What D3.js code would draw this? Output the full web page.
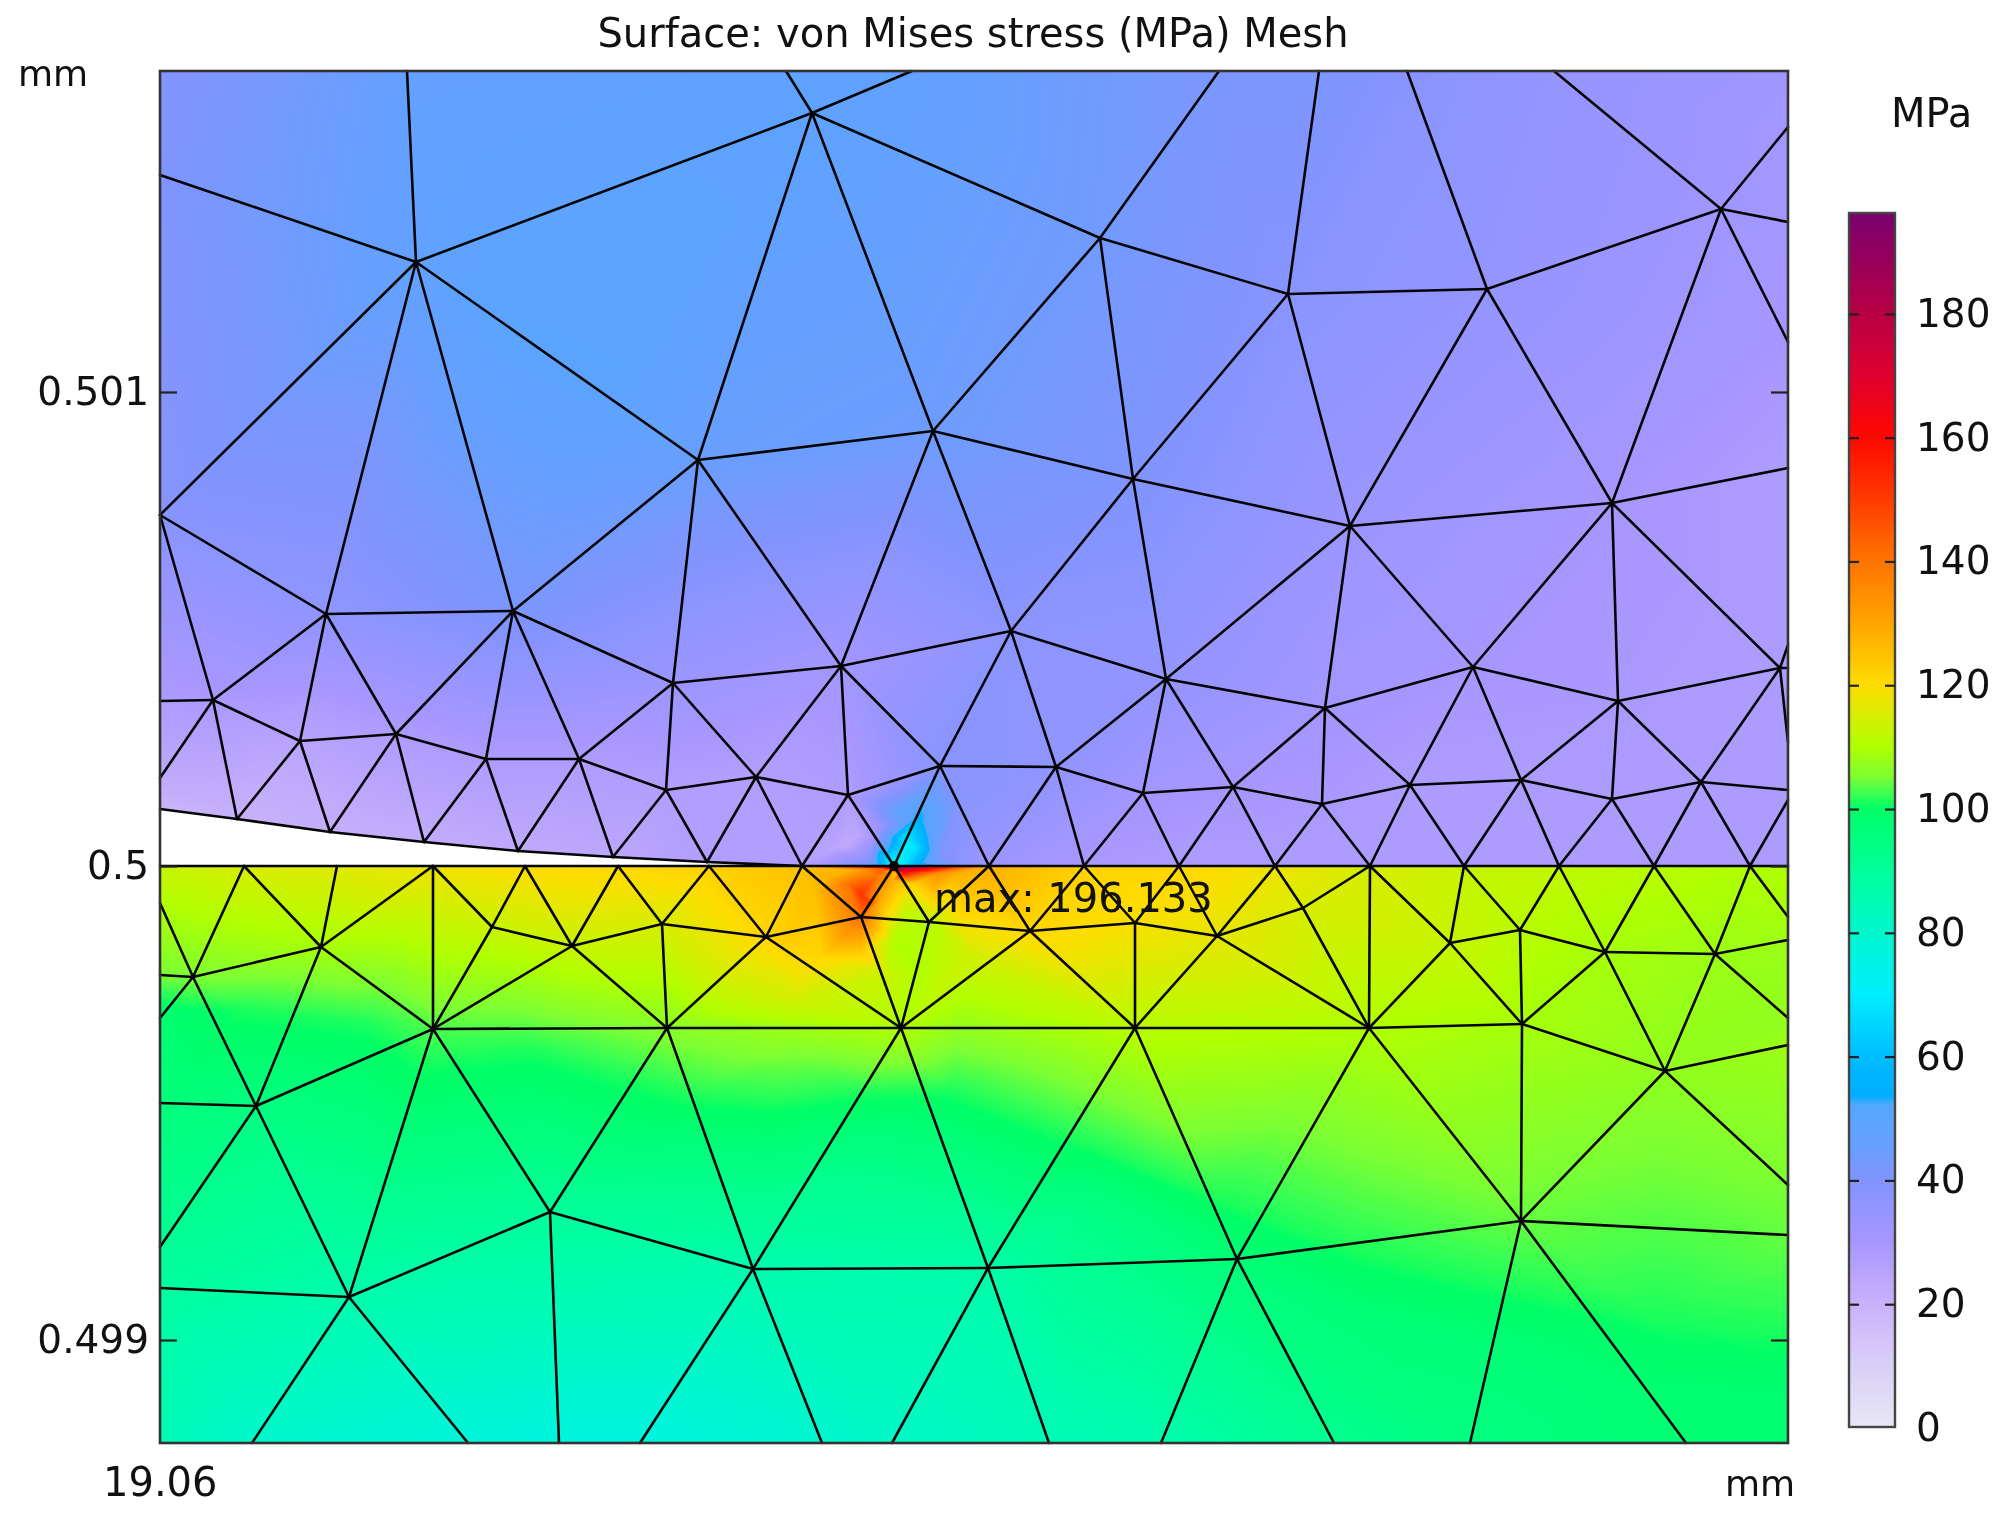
<!DOCTYPE html>
<html><head><meta charset="utf-8">
<script src="https://cdn.jsdelivr.net/npm/d3@7"></script>
<style>
html,body{margin:0;padding:0;background:#fff}
#wrap{position:relative;width:2015px;height:1520px;overflow:hidden;filter:blur(0.55px)}
canvas,svg{position:absolute;left:0;top:0}
svg text{font-family:"DejaVu Sans";fill:#111}
</style></head><body><div id="wrap"><canvas id="field" width="2015" height="1520"></canvas><svg id="chart" width="2015" height="1520"></svg></div>
<script>
// Read-off graph units: 474000 units per mm. u = right of x = 19.06, v = up from y = 0.5
const unitsPerMm = 474000, xOrigin = 19.06, yOrigin = 0.5;
const uSpan = [0, 1628], vSpan = [-577, 795];
const title = "Surface: von Mises stress (MPa) Mesh";
const yTicks = [0.499, 0.5, 0.501];
const yTickLabels = ["0.499", "0.5", "0.501"];
const colorbarTicks = [0,20,40,60,80,100,120,140,160,180];
const stressMin = 0, stressMax = 196.133;
const colorStops = [[0,"#e8e6f6"],[10,"#d9cff6"],[20,"#c8b2fb"],[30,"#a896ff"],[40,"#8094ff"],[46,"#64a0ff"],[52,"#54a6ff"],[53.5,"#00aeff"],[60,"#00bcff"],[70,"#00eeff"],[80,"#00f8cc"],[90,"#00ff9a"],[100,"#00ff66"],[102,"#34ff55"],[105,"#7cff33"],[110,"#b0ff00"],[120,"#ffdc00"],[130,"#ffa400"],[140,"#ff7400"],[150,"#ff3a00"],[160,"#ff0800"],[170,"#de0030"],[180,"#b80044"],[196.133,"#7a0070"]];

const frameNodes = [["tl",0,795],["tr",1628,795],["cl",0,0],["cr",1628,0],["bl",0,-577],["br",1628,-577],
["t1",247,795],["t2",626,795],["t3",752,795],["t4",1059,795],["t5",1159,795],["t6",1247,795],["t7",1394,795],
["l1",0,691],["l2",0,351],["l3",0,165],["l4",0,88],["l5",0,57],["l6",0,-37],["l11",0,-109],["l7",0,-152],["l8",0,-237],["l9",0,-381],["l10",0,-422],
["r1",1628,739],["r2",1628,644],["r3",1628,524],["r4",1628,398],["r5",1628,221],["r0",1628,198],["r6",1628,124],["r7",1628,76],["r8",1628,66],
["r9",1628,-51],["r10",1628,-74],["r11",1628,-152],["r12",1628,-179],["r13",1628,-319],["r14",1628,-369],
["e1",92,-577],["e2",308,-577],["e3",399,-577],["e4",480,-577],["e5",662,-577],["e6",732,-577],["e7",889,-577],["e8",1001,-577],["e9",1174,-577],["e10",1310,-577],["e11",1526,-577]];
const upperNodes = [["A",256,604],["B",652,753],["C",538,406],["D",773,435],["E",940,628],["F",973,387],["G",1128,572],["H",1327,577],["I",1561,657],["J",1190,340],["K",1452,363],
["n1",166,252],["n2",353,255],["n3",53,166],["n4",140,125],["n5",236,132],["n6",326,107],["n7",419,107],
["u1",513,183],["u2",681,200],["u3",851,235],["u4",1006,187],["u5",1165,158],["u6",1313,199],["u7",1458,165],["u8",1620,198],
["v1",506,76],["v2",596,89],["v3",688,71],["v4",780,100],["v5",896,99],["v6",983,73],["v7",1073,79],["v8",1162,62],["v9",1250,81],["v10",1361,86],["v11",1452,67],["v12",1541,84],
["c1",77,47],["c2",170,34],["c3",264,24],["c4",358,15],["c5",453,9],["c6",547,4]];
const interfaceNodes = [["c7",642,0],["s0",734,0],["b1",829,0],["b2",924,0],["b3",1019,0],["b4",1115,0],["b5",1210,0],["b6",1304,0],["b7",1399,0],["b8",1494,0],["b9",1590,0],
["d1",84,0],["d2",177,0],["d3",273,0],["d4",365,0],["d5",458,0],["d6",549,0]];
const lowerNodes = [["w0",33,-111],["w1",161,-81],["w2",332,-61],["w3",412,-80],["w4",502,-58],["w5",606,-71],["w6",701,-51],["w7",769,-56],["w8",870,-65],["w9",975,-57],["w10",1057,-70],["w11",1143,-42],["w12",1290,-77],["w13",1360,-64],["w14",1445,-86],["w15",1555,-88],
["x0",273,-163],["x1",507,-162],["x2",741,-162],["x3",975,-162],["x4",1209,-162],["x5",1362,-158],["x6",1505,-205],
["y1",96,-240],["y2",189,-431],["y3",390,-346],["y4",593,-403],["y5",828,-402],["y6",1077,-393],["y7",1361,-355]];

const meshEdges = ("t1-A t2-B t3-B A-B l1-A A-l2 A-n1 A-n2 A-C B-C B-D B-E C-D C-n2 C-u1 C-u2 D-E D-F D-u2 D-u3 E-t4 E-G E-F F-G F-J F-u3 F-u4 G-t5 G-H G-J H-t6 H-I H-J H-K I-t7 I-r1 I-r2 I-r3 I-K J-K J-u4 J-u5 J-u6 K-r4 K-u6 K-u7 K-u8 "
+"l2-n1 l2-n3 n1-n2 n1-n3 n1-n4 n1-n5 n2-n5 n2-n6 n2-n7 n2-u1 n3-l3 n3-l4 n3-c1 n3-n4 n4-n5 n4-c1 n4-c2 n5-n6 n5-c2 n5-c3 n6-n7 n6-c3 n6-c4 n7-c4 n7-c5 n7-u1 n7-v1 "
+"c5-v1 v1-c6 v1-u1 v1-v2 u1-u2 u1-v2 u2-u3 u2-v2 u2-v3 u2-v4 u3-u4 u3-v4 u3-v5 u4-u5 u4-v5 u4-v6 u4-v7 u5-u6 u5-v7 u5-v8 u5-v9 u6-u7 u6-v9 u6-v10 u7-u8 u7-v10 u7-v11 u7-v12 u8-r0 u8-r5 u8-r6 u8-v12 "
+"v2-c6 v2-c7 v2-v3 v3-c7 v3-s0 v3-v4 v4-s0 v4-b1 v4-v5 v5-b1 v5-b2 v5-v6 v6-b2 v6-b3 v6-v7 v7-b3 v7-b4 v7-v8 v8-b4 v8-b5 v8-v9 v9-b5 v9-b6 v9-v10 v10-b6 v10-b7 v10-v11 v11-b7 v11-b8 v11-v12 v12-b8 v12-b9 v12-r7 b9-r8 "
+"l5-c1 c1-c2 c2-c3 c3-c4 c4-c5 c5-c6 c6-c7 cl-cr "
+"d1-w0 d1-w1 d2-w1 d3-w1 d3-x0 d3-w2 d4-w2 d4-w3 d5-w3 d5-w4 d6-w4 d6-w5 c7-w5 c7-w6 s0-w6 s0-w7 b1-w7 b1-w8 b2-w8 b2-w9 b3-w9 b3-w10 b4-w10 b4-w11 b5-w11 b5-x4 b5-w12 b6-w12 b6-w13 b7-w13 b7-w14 b8-w14 b8-w15 b9-w15 b9-r9 "
+"l6-w0 l11-w0 l7-w0 w0-w1 w0-y1 w1-x0 w1-y1 w2-w3 w2-x0 w3-w4 w3-x0 w3-x1 w4-w5 w4-x1 w5-w6 w5-x1 w5-x2 w6-w7 w6-x2 w7-w8 w7-x2 w8-w9 w8-x2 w8-x3 w9-w10 w9-x3 w10-w11 w10-x3 w10-x4 w11-x4 w12-w13 w12-x4 w12-x5 w13-w14 w13-x5 w14-w15 w14-x5 w14-x6 w15-r10 w15-r11 w15-x6 "
+"x0-x1 x1-x2 x2-x3 x3-x4 x4-x5 x5-x6 x6-r12 x6-r13 x6-y7 x0-y1 x0-y2 x0-y3 x1-y3 x1-y4 x2-y4 x2-y5 x3-y5 x3-y6 x4-y6 x4-y7 x5-y7 "
+"y1-l8 y1-l9 y1-y2 y2-l10 y2-y3 y2-e1 y2-e2 y3-y4 y3-e3 y4-y5 y4-e4 y4-e5 y5-y6 y5-e6 y5-e7 y6-y7 y6-e8 y6-e9 y7-r14 y7-e10 y7-e11").split(" ");

const upperStress = {tl:39,t1:46,t2:48,t3:47,t4:41,t5:41,t6:38,t7:35,tr:32,l1:40,l2:38,l3:28,l4:23,l5:19,r1:31,r2:31,r3:30,r4:28,r5:28,r0:28,r6:28,r7:28,r8:28,
A:47,B:48,C:45,D:44,E:43,F:40,G:38,H:35,I:32,J:33,K:30,n1:36,n2:41,n3:29,n4:25,n5:28,n6:28,n7:28,
u1:33,u2:31,u3:37,u4:35,u5:31,u6:30,u7:29,u8:28,v1:27,v2:27,v3:28,v4:38,v5:36,v6:31,v7:30,v8:29,v9:28,v10:28,v11:28,v12:28,
c1:20,c2:21,c3:22,c4:23,c5:24,c6:27,c7:27,s0:75,b1:33,b2:29,b3:28,b4:28,b5:28,b6:28,b7:28,b8:28,b9:28,cr:28};
const lowerStress = {cl:113,d1:115,d2:116,d3:118,d4:120,d5:121,d6:122,c7:125,s0:196,b1:128,b2:122,b3:121,b4:118,b5:115,b6:113,b7:112,b8:111,b9:110,cr:110,
l6:110,l11:105,l7:98,l8:96,l9:91,l10:89,bl:84,r9:109,r10:108,r11:107,r12:108,r13:105,r14:104,br:98,
w0:105,w1:109,w2:113,w3:113,w4:115,w5:121,w6:140,w7:111,w8:121,w9:119,w10:117,w11:115,w12:113,w13:111,w14:109,w15:108,
x0:103,x1:106,x2:110,x3:111,x4:110,x5:109,x6:107,y1:95,y2:86,y3:90,y4:86,y5:87,y6:97,y7:104,
e1:80,e2:77,e3:76,e4:76,e5:79,e6:81,e7:84,e8:86,e9:92,e10:95,e11:98};
// Extra readings of the colour field between the nodes: [u, v, MPa]
const upperReadings = [[352,540,50],[450,500,50],[728,8,66],[740,8,72],[720,4,58],[750,4,64],[710,4,40],[765,4,50],[780,6,40],[745,21,70],[755,18,68],[735,21,58],[725,16,50],[746,31,68],[753,41,62],[763,24,58],[770,16,52],[759,51,54],[720,13,58],[727,29,47],[717,39,32],[770,31,50],[740,41,46],[712,28,30],[698,31,24],[687,21,23],[670,16,25],[640,16,27],[800,66,38]];
const lowerReadings = [[700,-27,152],[687,-17,140],[670,-11,128],[717,-9,140],[710,-37,148],[720,-34,128],[733,-14,128],[735,-7,122],[747,-37,114],[753,-47,112],[743,-6,160],[735,-2,190],[760,-6,148],[777,-7,134],[797,-9,127],[820,-7,127],[753,-17,122],[720,-2,145],[703,-4,133],[687,-4,127],[653,-27,125],[701,-84,124],[727,-107,113],[660,-91,121],[627,-74,123],[733,-74,110],[760,-107,110],[810,-91,114],[630,-134,114],[630,-163,108],[630,-199,104],
[0,-130,101],[84,-143,101],[207,-157,101],[369,-184,101],[532,-231,101],[613,-237,101],[695,-227,101],[790,-224,101],[925,-277,101],[1061,-334,101],[1196,-384,101],[1332,-417,101],[1494,-451,101],[1627,-467,101],
[532,-290,95],[695,-290,94],[925,-340,94],[1061,-400,96],[1196,-450,97],[1332,-480,97],[1494,-520,98],[1628,-530,98]];

const toX = u => xOrigin + u/unitsPerMm, toY = v => yOrigin + v/unitsPerMm;
const x = d3.scaleLinear().domain(uSpan.map(toX)).range([160,1788]);
const y = d3.scaleLinear().domain(vSpan.map(toY)).range([1443,71]);
const cbar = d3.scaleLinear().domain([stressMin,stressMax]).range([1427,213]);
const color = d3.scaleLinear().domain(colorStops.map(d=>d[0])).range(colorStops.map(d=>d[1])).interpolate(d3.interpolateRgb).clamp(true);

const nodes = new Map([...frameNodes,...upperNodes,...interfaceNodes,...lowerNodes].map(d=>[d[0],{u:d[1],v:d[2]}]));
const px = n => [x(toX(n.u)), y(toY(n.v))];

// colour lookup
const lutN = 2000, lut = new Uint8Array(3*(lutN+1));
for(let i=0;i<=lutN;i++){const c=d3.rgb(color(stressMax*i/lutN));lut[3*i]=c.r;lut[3*i+1]=c.g;lut[3*i+2]=c.b;}

const cv = document.getElementById("field"), ctx = cv.getContext("2d");
const img = ctx.createImageData(cv.width,cv.height);
for(let i=3;i<img.data.length;i+=4) img.data[i]=0;
function paint(stress, readings){
  const pts=[], vals=[];
  for(const k of Object.keys(stress)){pts.push(px(nodes.get(k)));vals.push(stress[k]);}
  for(const r of readings){pts.push(px({u:r[0],v:r[1]}));vals.push(r[2]);}
  const tri = d3.Delaunay.from(pts).triangles;
  for(let t=0;t<tri.length;t+=3){
    const a=tri[t],b=tri[t+1],c=tri[t+2];
    const [ax,ay]=pts[a],[bx,by]=pts[b],[cx,cy]=pts[c];
    const den=(by-cy)*(ax-cx)+(cx-bx)*(ay-cy); if(Math.abs(den)<1e-6) continue;
    const x0=Math.floor(Math.min(ax,bx,cx)),x1=Math.ceil(Math.max(ax,bx,cx));
    const y0=Math.floor(Math.min(ay,by,cy)),y1=Math.ceil(Math.max(ay,by,cy));
    for(let py=y0;py<=y1;py++)for(let pxx=x0;pxx<=x1;pxx++){
      const w1=((by-cy)*(pxx-cx)+(cx-bx)*(py-cy))/den;
      const w2=((cy-ay)*(pxx-cx)+(ax-cx)*(py-cy))/den;
      const w3=1-w1-w2;
      if(w1<-0.004||w2<-0.004||w3<-0.004) continue;
      const val=w1*vals[a]+w2*vals[b]+w3*vals[c];
      const li=Math.max(0,Math.min(lutN,Math.round(val/stressMax*lutN)));
      const o=4*(py*cv.width+pxx);
      img.data[o]=lut[3*li];img.data[o+1]=lut[3*li+1];img.data[o+2]=lut[3*li+2];img.data[o+3]=255;
    }
  }
}
paint(upperStress,upperReadings);
paint(lowerStress,lowerReadings);
ctx.putImageData(img,0,0);

const svg = d3.select("#chart");
const edges = Array.from(new Set(meshEdges)).map(e=>e.split("-").map(k=>px(nodes.get(k))));
svg.append("g").attr("stroke","#050505").attr("stroke-width",2.6).attr("stroke-linecap","round")
  .selectAll("line").data(edges).join("line")
  .attr("x1",d=>d[0][0]).attr("y1",d=>d[0][1]).attr("x2",d=>d[1][0]).attr("y2",d=>d[1][1]);
const maxP = px(nodes.get("s0"));
svg.append("circle").attr("cx",maxP[0]).attr("cy",maxP[1]).attr("r",5).attr("fill","#000");
svg.append("rect").attr("x",160).attr("y",71).attr("width",1628).attr("height",1372).attr("fill","none").attr("stroke","#333").attr("stroke-width",2.6);

// axes
const yAxisL = d3.axisLeft(y).tickValues(yTicks).tickFormat((d,i)=>yTickLabels[i]).tickSizeInner(-17).tickSizeOuter(0).tickPadding(11);
const yAxisR = d3.axisRight(y).tickValues(yTicks).tickFormat("").tickSizeInner(-17).tickSizeOuter(0);
const styleAxis = g => {g.select(".domain").remove();g.selectAll("line").attr("stroke","#222").attr("stroke-width",2.2);g.selectAll(".tick").filter(d=>d===0).select("line").remove();};
const gL = svg.append("g").attr("transform","translate(160,0)").call(yAxisL).call(styleAxis);
gL.selectAll("text").attr("font-family","DejaVu Sans").attr("font-size",39).attr("fill","#111");
svg.append("g").attr("transform","translate(1788,0)").call(yAxisR).call(styleAxis);

svg.append("text").attr("x",973).attr("y",47).attr("text-anchor","middle").attr("font-size",40).text(title);
svg.append("text").attr("x",18).attr("y",86).attr("font-size",36).text("mm");
svg.append("text").attr("x",103).attr("y",1496).attr("font-size",40).text("19.06");
svg.append("text").attr("x",1725).attr("y",1496).attr("font-size",36).text("mm");
svg.append("text").attr("x",1891).attr("y",127).attr("font-size",40).text("MPa");
svg.append("text").attr("x",934).attr("y",912).attr("font-size",40).attr("fill","#111").text("max: 196.133");

// colour bar
const defs = svg.append("defs");
const grad = defs.append("linearGradient").attr("id","cb").attr("x1",0).attr("y1",1).attr("x2",0).attr("y2",0);
const ns = stressMax*2;
grad.selectAll("stop").data(d3.range(0,ns+1)).join("stop").attr("offset",d=>d/ns).attr("stop-color",d=>color(d/2));
svg.append("rect").attr("x",1849).attr("y",cbar(stressMax)).attr("width",46).attr("height",cbar(stressMin)-cbar(stressMax)).attr("fill","url(#cb)").attr("stroke","#444").attr("stroke-width",2.4);
const cbR = d3.axisRight(cbar).tickValues(colorbarTicks).tickSizeInner(-10).tickSizeOuter(0).tickPadding(21);
const cbL = d3.axisLeft(cbar).tickValues(colorbarTicks).tickFormat("").tickSizeInner(-10).tickSizeOuter(0);
const gR = svg.append("g").attr("transform","translate(1895,1)").call(cbR).call(styleAxis);
gR.selectAll("text").attr("font-family","DejaVu Sans").attr("font-size",39).attr("fill","#111");
svg.append("g").attr("transform","translate(1849,1)").call(cbL).call(styleAxis);
</script></body></html>
